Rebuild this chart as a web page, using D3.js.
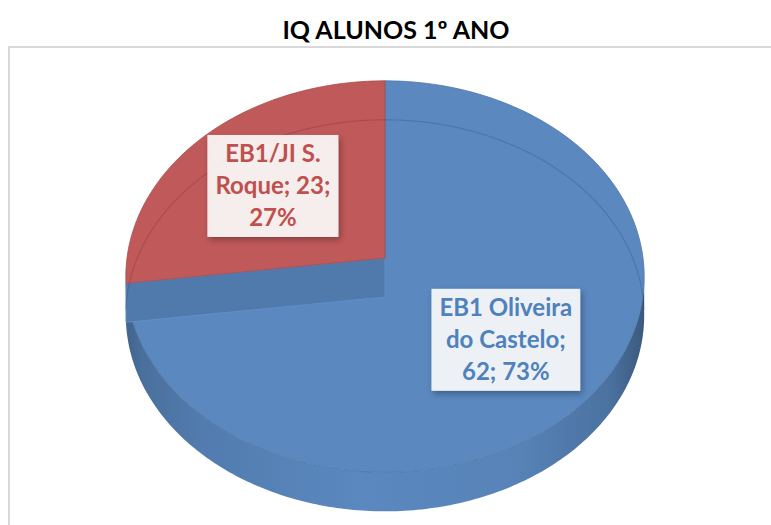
<!DOCTYPE html>
<html>
<head>
<meta charset="utf-8">
<script src="https://cdn.jsdelivr.net/npm/d3@7"></script>
<style>
	body { margin: 0; background: #fff; }
	svg { display: block; }
</style>
</head>
<body>
<script>
// Dados do gráfico
var chartTitle = 'IQ ALUNOS 1º ANO';
var categories = ['EB1 Oliveira do Castelo', 'EB1/JI S. Roque'];
var values = [62, 23];
var topColors = ['#5a88bf', '#c0595a'];
var textColors = ['#4f81bd', '#c0504d'];

function ready() {
	var width = 771,
			height = 525,
			cx = 385, // centro projectado da face de cima
			cy = 258,
			rx = 258,
			ry = 194,
			k = 0.095, // perspectiva: o fundo fica mais pequeno
			depth = 39, // espessura do bolo
			font = 'Lato, "Open Sans", sans-serif';

	var svg = d3.select('body')
		.append('svg')
		.attr('width', width)
		.attr('height', height);

	// escalas de coordenadas unitárias para o ecrã
	var x = d3.scaleLinear().domain([-1, 1]).range([cx - rx, cx + rx]),
			y = d3.scaleLinear().domain([-1, 1]).range([cy + ry, cy - ry]);

	function proj(a, r, drop) {
		var X = r * Math.sin(a),
				Z = r * Math.cos(a),
				s = 1 / (1 + k * Z);
		return [x(X * s), y(Z * s) + (drop || 0)];
	}

	function arcPoints(a0, a1, r, drop) {
		var n = Math.max(2, Math.ceil(Math.abs(a1 - a0) / 0.015));
		return d3.range(n + 1).map(function(i) {
			return proj(a0 + (a1 - a0) * i / n, r, drop);
		});
	}

	var line = d3.line();
	var total = d3.sum(values);
	var slices = d3.pie().sort(null)(values);

	var defs = svg.append('defs');

	var shadow = defs.append('filter')
		.attr('id', 'shadow')
		.attr('x', '-20%').attr('y', '-20%')
		.attr('width', '150%').attr('height', '150%');
	shadow.append('feDropShadow')
		.attr('dx', 2).attr('dy', 3)
		.attr('stdDeviation', 3)
		.attr('flood-color', '#000')
		.attr('flood-opacity', 0.35);

	// gradiente da parede lateral
	var sideStops = [
		[0, -0.9], [0.035, -0.55], [0.15, -0.25], [0.45, 0], [0.75, -0.1], [0.93, -0.5], [1, -1.2]
	];
	slices.forEach(function(d, i) {
		var g = defs.append('linearGradient')
			.attr('id', 'side' + i)
			.attr('gradientUnits', 'userSpaceOnUse')
			.attr('x1', cx - rx - 2).attr('x2', cx + rx + 2)
			.attr('y1', 0).attr('y2', 0);
		sideStops.forEach(function(s) {
			var c = d3.color(topColors[i]);
			c = s[1] < 0 ? c.darker(-s[1]) : c;
			g.append('stop').attr('offset', s[0]).attr('stop-color', c.formatHex());
		});
	});

	// moldura
	svg.append('rect')
		.attr('x', 9).attr('y', 47)
		.attr('width', 820).attr('height', 520)
		.attr('fill', 'none')
		.attr('stroke', '#d9d9d9')
		.attr('stroke-width', 2);

	// título
	svg.append('text')
		.attr('x', 396)
		.attr('y', 39)
		.attr('text-anchor', 'middle')
		.style('font-family', font)
		.style('font-weight', 'bold')
		.style('font-size', '25px')
		.attr('fill', '#000')
		.text(chartTitle);

	var t1 = Math.acos(-k),
			t2 = 2 * Math.PI - t1;

	// paredes laterais visíveis
	svg.selectAll('path.side')
		.data(slices)
		.enter()
		.append('path')
		.attr('class', 'side')
		.attr('fill', function(d, i) { return 'url(#side' + i + ')'; })
		.attr('d', function(d) {
			var a = Math.max(d.startAngle, t1),
					b = Math.min(d.endAngle, t2);
			if (b <= a) return null;
			var pts = arcPoints(a, b, 1, 0).concat(arcPoints(b, a, 1, depth));
			return line(pts) + 'Z';
		});

	function topPath(d) {
		return line([proj(0, 0, 0)].concat(arcPoints(d.startAngle, d.endAngle, 1, 0))) + 'Z';
	}

	// face de cima da primeira fatia
	svg.append('path')
		.datum(slices[0])
		.attr('d', topPath)
		.attr('fill', topColors[0])
		.attr('stroke', d3.color(topColors[0]).darker(0.4))
		.attr('stroke-width', 0.8);

	// face radial na fronteira entre as fatias (desenhada por cima, como no Excel)
	var e = slices[0].endAngle;
	svg.append('path')
		.attr('d', line([proj(e, 0, 0), proj(e, 1, 0), proj(e, 1, depth), proj(e, 0, depth)]) + 'Z')
		.attr('fill', d3.color(topColors[0]).darker(0.3))
		.attr('stroke', d3.color(topColors[0]).brighter(0.2))
		.attr('stroke-width', 0.8);

	// restantes fatias
	slices.slice(1).forEach(function(d, j) {
		svg.append('path')
			.datum(d)
			.attr('d', topPath)
			.attr('fill', topColors[j + 1])
			.attr('stroke', d3.color(topColors[j + 1]).darker(0.4))
			.attr('stroke-width', 0.8);
	});

	// aresta de baixo vista através da face de cima
	svg.append('path')
		.attr('d', line(arcPoints(t2 + 0.03, t1 + 2 * Math.PI - 0.03, 1, depth)))
		.attr('fill', 'none')
		.attr('stroke', '#000')
		.attr('stroke-opacity', 0.13)
		.attr('stroke-width', 1.2);

	// rótulos
	var lineH = 32,
			maxW = 140;

	slices.forEach(function(d, i) {
		var mid = (d.startAngle + d.endAngle) / 2,
				p = proj(mid, 0.6, 2),
				pct = Math.round(d.value / total * 100),
				label = categories[i] + '; ' + d.value + '; ' + pct + '%';

		var g = svg.append('g');
		var rect = g.append('rect')
			.attr('fill', '#fff')
			.attr('fill-opacity', 0.88)
			.attr('filter', 'url(#shadow)');
		var text = g.append('text')
			.attr('text-anchor', 'middle')
			.style('font-family', font)
			.style('font-weight', 'bold')
			.style('font-size', '24px')
			.attr('fill', textColors[i]);

		// quebra de linha pela largura
		var words = label.split(' '),
				lines = [],
				cur = '';
		var probe = text.append('tspan');
		words.forEach(function(w) {
			var test = cur ? cur + ' ' + w : w;
			probe.text(test);
			if (cur && probe.node().getComputedTextLength() > maxW) {
				lines.push(cur);
				cur = w;
			} else {
				cur = test;
			}
		});
		lines.push(cur);
		probe.remove();

		var top = p[1] - lines.length * lineH / 2;
		lines.forEach(function(l, n) {
			text.append('tspan')
				.attr('x', p[0])
				.attr('y', top + lineH * n + lineH / 2 + 8)
				.text(l);
		});

		var bb = text.node().getBBox();
		rect.attr('x', bb.x - 8)
			.attr('y', top - 3)
			.attr('width', bb.width + 16)
			.attr('height', lines.length * lineH + 6);
	});
}

window.onload = function() {
	ready();
};
</script>
</body>
</html>
